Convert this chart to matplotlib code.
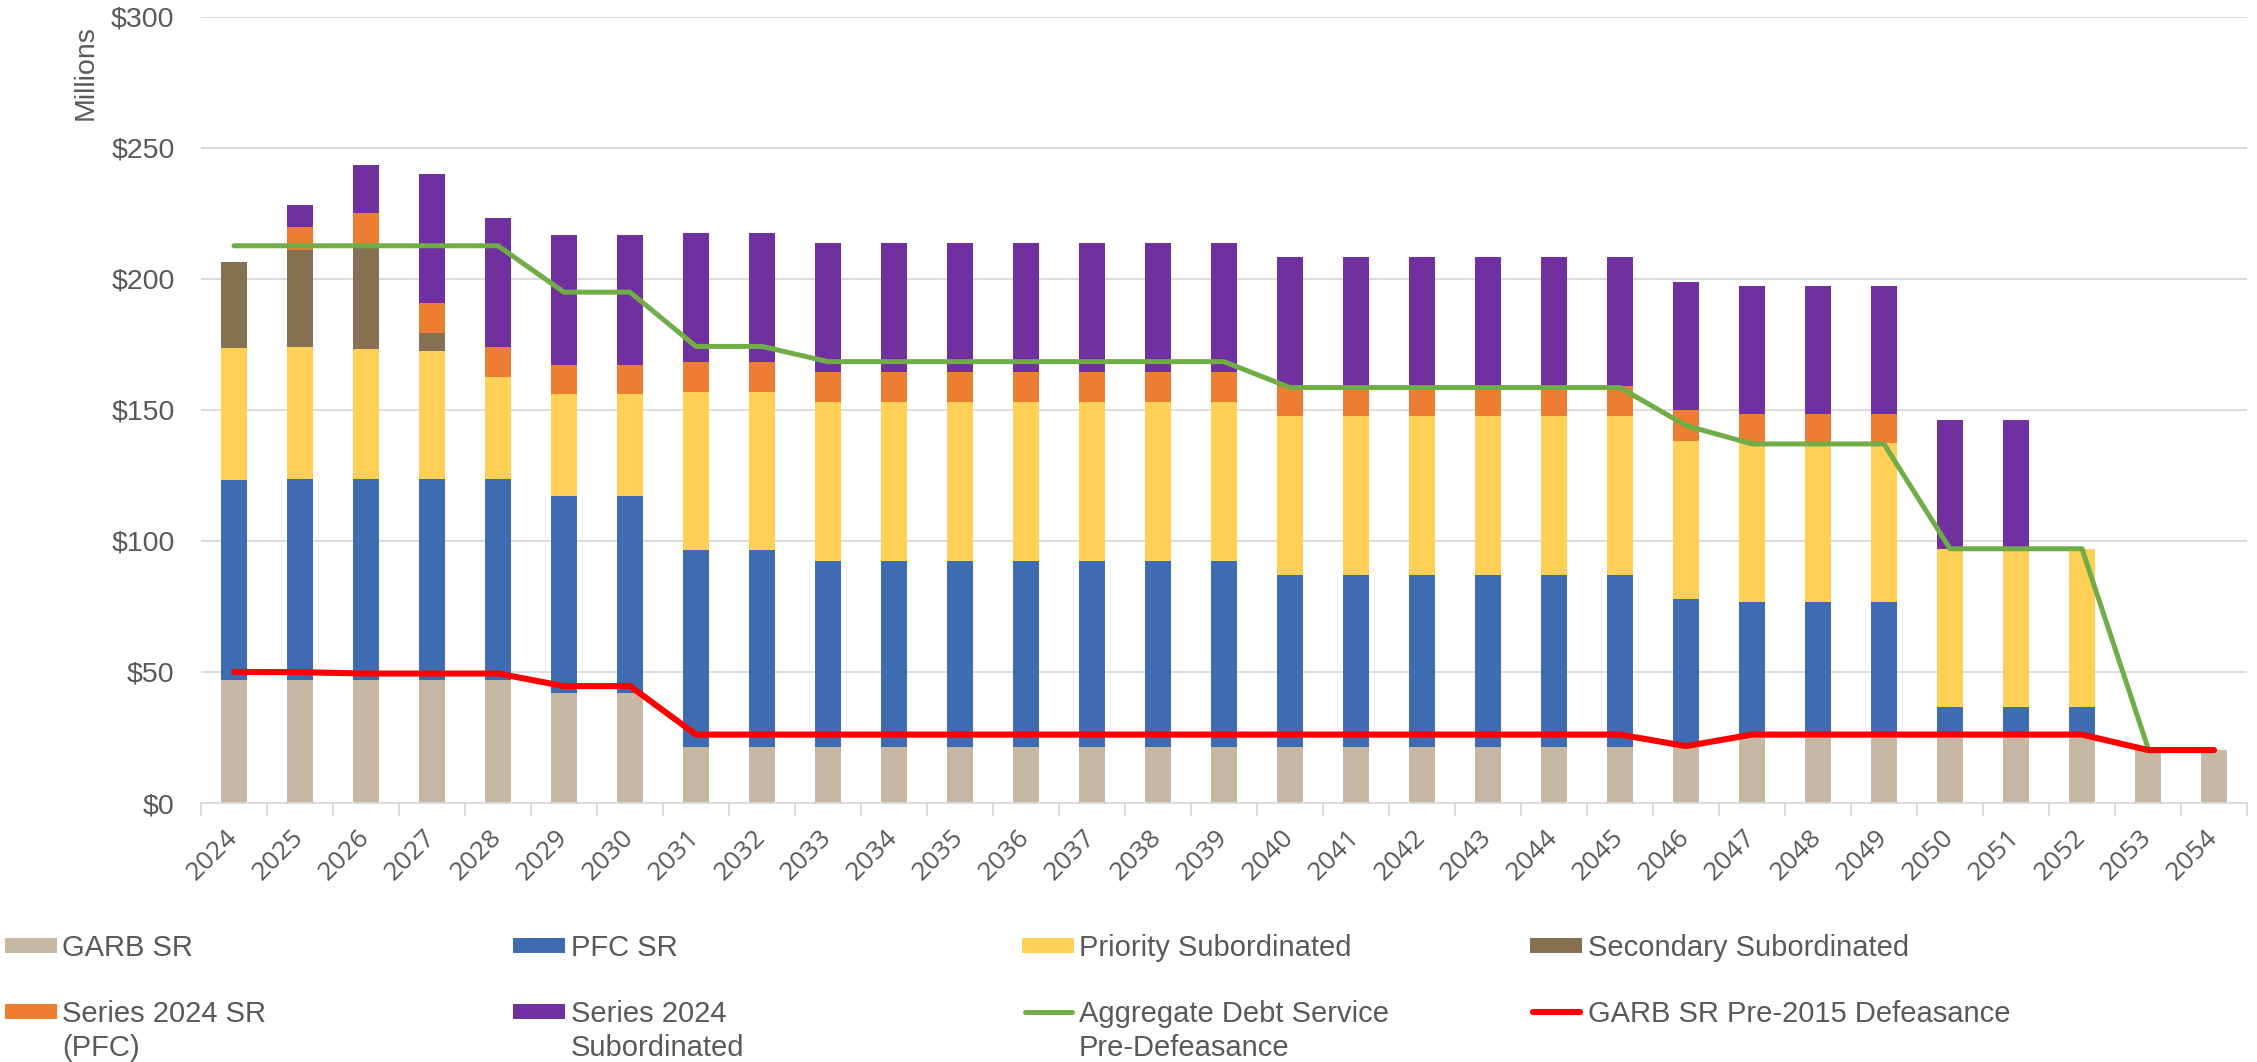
import numpy as np
import matplotlib
matplotlib.use("Agg")
import matplotlib.pyplot as plt
from matplotlib.patches import Rectangle
from matplotlib.lines import Line2D

plt.rcParams['font.family'] = ['Liberation Sans', 'DejaVu Sans']

years = [2024, 2025, 2026, 2027, 2028, 2029, 2030, 2031, 2032, 2033, 2034, 2035, 2036, 2037, 2038, 2039,
         2040, 2041, 2042, 2043, 2044, 2045, 2046, 2047, 2048, 2049, 2050, 2051, 2052, 2053, 2054]

garb_sr = [47.1, 47.1, 47.1, 47.1, 47.1, 42.1, 42.1, 21.5, 21.5, 21.5, 21.5, 21.5, 21.5, 21.5, 21.5, 21.5,
           21.5, 21.5, 21.5, 21.5, 21.5, 21.5, 21.5, 26.0, 26.0, 26.0, 26.0, 26.0, 26.0, 20.2, 20.2]
pfc_sr = [76.1, 76.6, 76.6, 76.6, 76.6, 75.1, 75.1, 75.1, 75.1, 71.0, 71.0, 71.0, 71.0, 71.0, 71.0, 71.0,
          65.6, 65.6, 65.6, 65.6, 65.6, 65.6, 56.3, 50.5, 50.5, 50.5, 10.6, 10.6, 10.6, 0.0, 0.0]
priority_sub = [50.4, 50.2, 49.6, 48.9, 38.7, 38.7, 38.7, 60.3, 60.3, 60.6, 60.6, 60.6, 60.6, 60.6, 60.6, 60.6,
                60.6, 60.6, 60.6, 60.6, 60.6, 60.6, 60.4, 60.8, 60.8, 60.8, 60.4, 60.4, 60.4, 0.0, 0.0]
secondary_sub = [33.0, 36.9, 38.7, 6.6, 0.0, 0.0, 0.0, 0.0, 0.0, 0.0, 0.0, 0.0, 0.0, 0.0, 0.0, 0.0,
                 0.0, 0.0, 0.0, 0.0, 0.0, 0.0, 0.0, 0.0, 0.0, 0.0, 0.0, 0.0, 0.0, 0.0, 0.0]
series2024_sr = [0.0, 8.9, 13.2, 11.4, 11.5, 11.4, 11.4, 11.4, 11.4, 11.4, 11.4, 11.4, 11.4, 11.4, 11.4, 11.4,
                 11.4, 11.4, 11.4, 11.4, 11.4, 11.4, 11.7, 11.0, 11.0, 11.0, 0.0, 0.0, 0.0, 0.0, 0.0]
series2024_sub = [0.0, 8.6, 18.2, 49.3, 49.2, 49.3, 49.3, 49.3, 49.3, 49.2, 49.2, 49.2, 49.2, 49.2, 49.2, 49.2,
                  49.2, 49.2, 49.2, 49.2, 49.2, 49.2, 48.9, 49.1, 49.1, 49.1, 49.1, 49.1, 0.0, 0.0, 0.0]
aggregate_pre = [212.6, 212.6, 212.6, 212.6, 212.6, 194.9, 194.9, 174.2, 174.2, 168.4, 168.4, 168.4, 168.4,
                 168.4, 168.4, 168.4, 158.5, 158.5, 158.5, 158.5, 158.5, 158.5, 144.0, 137.0, 137.0, 137.0,
                 97.0, 97.0, 97.0, 21.0, np.nan]
garb_pre2015 = [50.0, 49.9, 49.4, 49.4, 49.4, 44.6, 44.6, 26.1, 26.1, 26.1, 26.1, 26.1, 26.1, 26.1, 26.1, 26.1,
                26.1, 26.1, 26.1, 26.1, 26.1, 26.1, 21.7, 26.1, 26.1, 26.1, 26.1, 26.1, 26.1, 20.2, 20.2]

bar_series = [
    ("GARB SR", garb_sr, "#C7B8A4"),
    ("PFC SR", pfc_sr, "#3F6BB3"),
    ("Priority Subordinated", priority_sub, "#FFD055"),
    ("Secondary Subordinated", secondary_sub, "#857052"),
    ("Series 2024 SR\n(PFC)", series2024_sr, "#ED7D31"),
    ("Series 2024\nSubordinated", series2024_sub, "#7030A0"),
]
line_series = [
    ("Aggregate Debt Service\nPre-Defeasance", aggregate_pre, "#70AD47", 3.6),
    ("GARB SR Pre-2015 Defeasance", garb_pre2015, "#FF0000", 4.4),
]
yticks = [0, 50, 100, 150, 200, 250, 300]
ytick_labels = ["$0", "$50", "$100", "$150", "$200", "$250", "$300"]

W, H = 2257, 1062
fig = plt.figure(figsize=(W / 100, H / 100), dpi=100)
ax = fig.add_axes([201 / W, 1 - 803 / H, (2247 - 201) / W, (803 - 16.7) / H])

TEXT = "#595959"
x = np.arange(len(years))
bottom = np.zeros(len(years))
for name, vals, col in bar_series:
    v = np.array(vals)
    ax.bar(x, v, 0.4, bottom=bottom, color=col, linewidth=0, zorder=2)
    bottom += v

for name, vals, col, lw in line_series:
    ax.plot(x, vals, color=col, lw=lw, solid_capstyle='round', solid_joinstyle='round', zorder=3)

ax.set_xlim(-0.5, len(years) - 0.5)
ax.set_ylim(0, 300)
ax.set_yticks(yticks)
ax.set_yticklabels(ytick_labels, fontsize=20.5, color=TEXT)
ax.tick_params(axis='y', length=0, pad=19)
ax.grid(axis='y', color='#D9D9D9', lw=1.3, zorder=0)
ax.set_axisbelow(True)
for s in ['left', 'right', 'top']:
    ax.spines[s].set_visible(False)
ax.spines['bottom'].set_color('#D9D9D9')
ax.spines['bottom'].set_linewidth(1.3)

ax.set_xticks(x)
ax.set_xticklabels([str(y) for y in years], rotation=45, ha='right', va='center',
                   rotation_mode='anchor', fontsize=19, color=TEXT, family=['Open Sans', 'DejaVu Sans'])
ax.tick_params(axis='x', which='major', length=0, pad=22)
ax.set_xticks(np.arange(-0.5, len(years), 1.0), minor=True)
ax.tick_params(axis='x', which='minor', length=9, width=1.3, color='#D9D9D9')

fig.text(86 / W, 1 - 73 / H, "Millions", rotation=90, ha='center', va='center', fontsize=20.5, color=TEXT)

# legend (manual, 4 columns x 2 rows)
col_patch_x = [5, 513, 1022, 1530]
col_text_x = [62, 571, 1079, 1588]
row_y = [945.5, 1011.5]
entries = [(n, c, 'patch', None) for n, _, c in bar_series] + [(n, c, 'line', lw) for n, _, c, lw in line_series]
for i, (name, col, kind, lw) in enumerate(entries):
    r, c = divmod(i, 4)
    px, tx, yy = col_patch_x[c], col_text_x[c], row_y[r]
    if kind == 'patch':
        fig.add_artist(Rectangle((px / W, 1 - (yy + 7.5) / H), 52 / W, 15 / H,
                                 transform=fig.transFigure, color=col, lw=0))
    else:
        fig.add_artist(Line2D([(px + 3) / W, (px + 50) / W], [1 - yy / H, 1 - yy / H],
                              transform=fig.transFigure, color=col, lw=lw, solid_capstyle='round'))
    fig.text(tx / W, 1 - (yy - 11) / H, name, ha='left', va='top', fontsize=21, color=TEXT,
             linespacing=1.25)

fig.savefig("out.png", dpi=100)
